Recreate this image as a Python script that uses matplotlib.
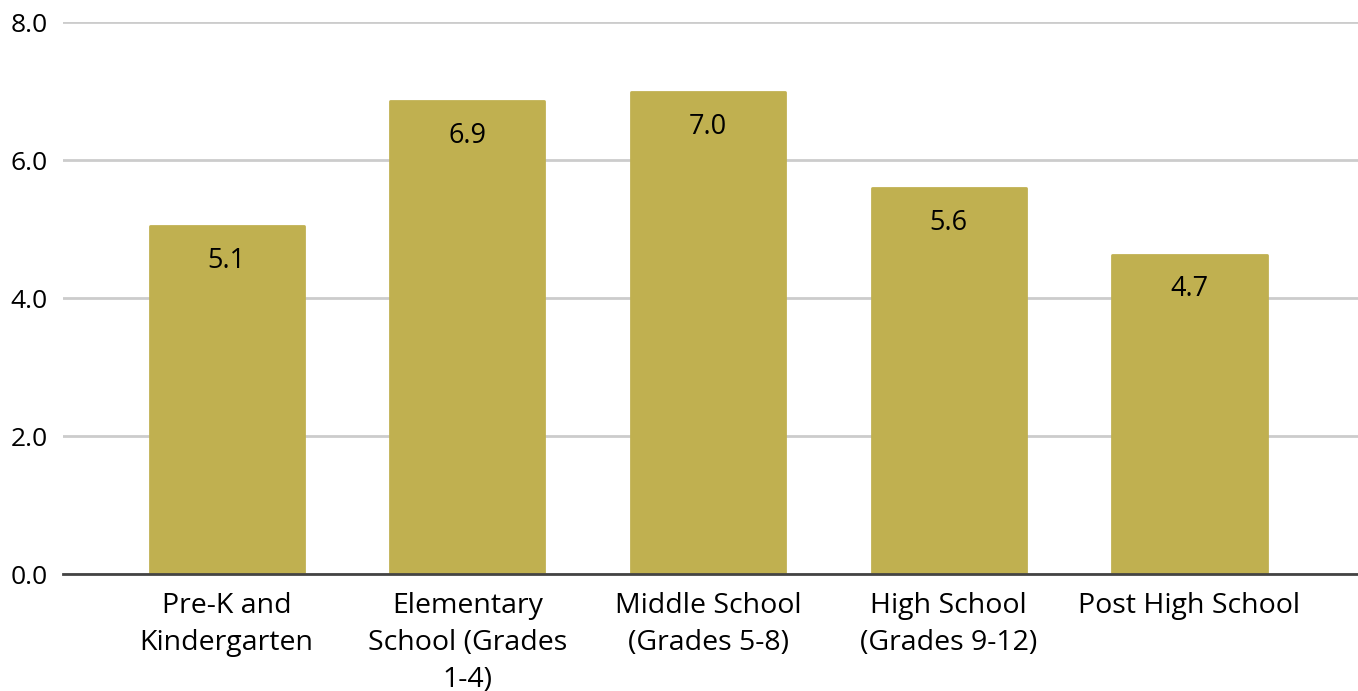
import matplotlib
matplotlib.use("Agg")
import matplotlib.pyplot as plt

categories = ["Pre-K and\nKindergarten", "Elementary\nSchool (Grades\n1-4)",
              "Middle School\n(Grades 5-8)", "High School\n(Grades 9-12)", "Post High School"]
values = [5.04, 6.85, 6.98, 5.59, 4.63]
value_labels = ["5.1", "6.9", "7.0", "5.6", "4.7"]
yticks = [0, 2, 4, 6, 8]
ytick_labels = ["0.0", "2.0", "4.0", "6.0", "8.0"]

bar_color = "#C0B050"
font = ["Open Sans", "DejaVu Sans"]

fig = plt.figure(figsize=(13.58, 6.91), dpi=100)
ax = fig.add_axes([0.0464, 0.1693, 0.9536, 0.7987])

x = list(range(len(categories)))
bars = ax.bar(x, values, width=0.64, color=bar_color, edgecolor=bar_color,
              linewidth=2, joinstyle="round", zorder=3)

for xi, v, lab in zip(x, values, value_labels):
    ax.annotate(lab, (xi, v), xytext=(0, -25), textcoords="offset points",
                ha="center", va="center", fontsize=19.5, family=font, color="black", zorder=4)

ax.set_ylim(0, 8)
ax.set_xlim(-0.68, 4.70)
ax.set_yticks(yticks)
ax.set_yticklabels(ytick_labels, fontsize=19, family=font)
ax.set_xticks(x)
ax.set_xticklabels(categories, fontsize=20.5, family=font, linespacing=1.42)
ax.tick_params(axis="both", length=0, colors="black")
ax.tick_params(axis="x", pad=13)
ax.tick_params(axis="y", pad=11)

ax.yaxis.grid(True, color="#CCCCCC", linewidth=2, zorder=0)
ax.set_axisbelow(True)
for s in ["left", "right", "top"]:
    ax.spines[s].set_visible(False)
ax.spines["bottom"].set_color("#444444")
ax.spines["bottom"].set_linewidth(2)
ax.spines["bottom"].set_zorder(5)

fig.savefig("out.png", dpi=100)
